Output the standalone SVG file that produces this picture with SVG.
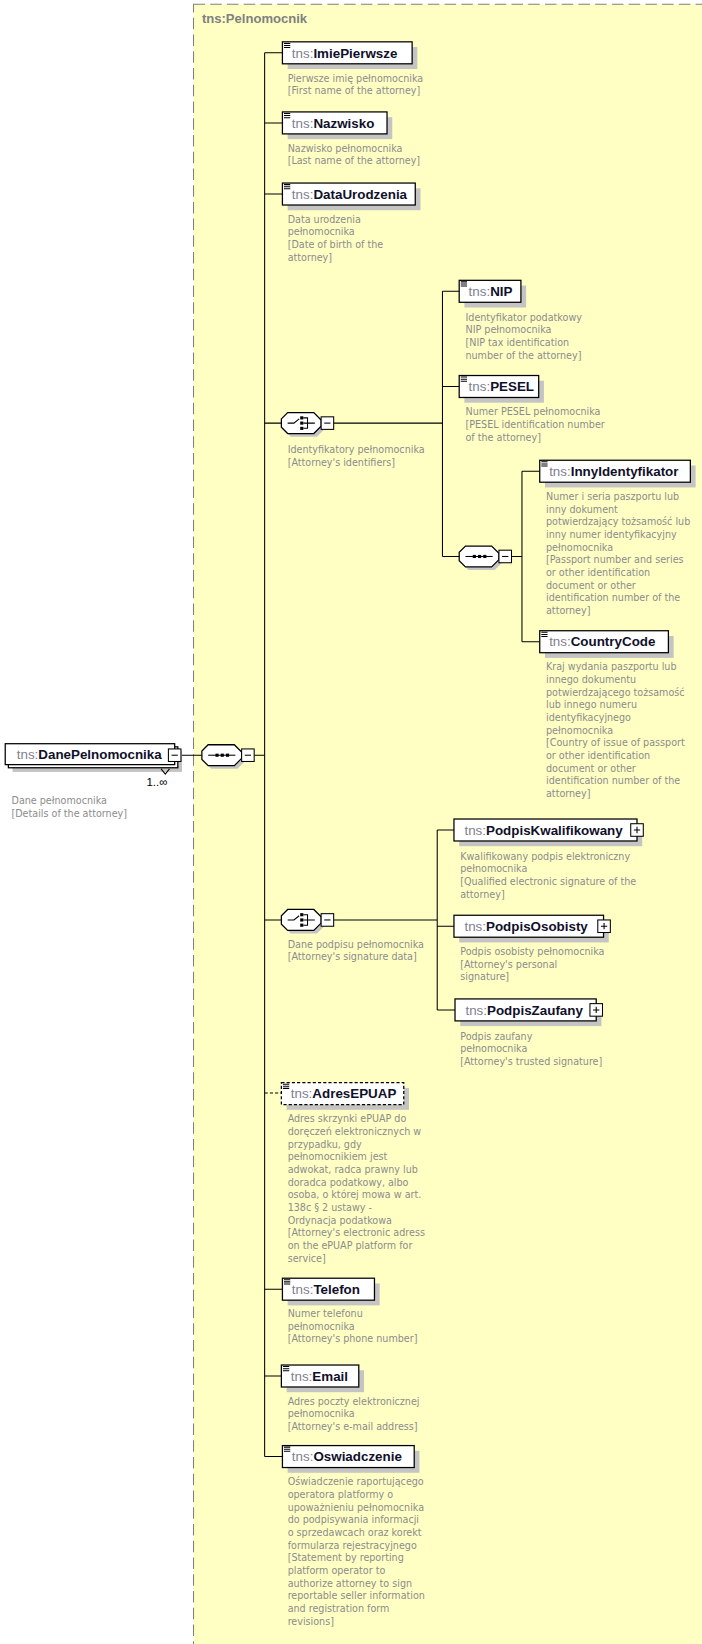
<svg xmlns="http://www.w3.org/2000/svg" xmlns:xlink="http://www.w3.org/1999/xlink" width="702" height="1644" viewBox="0 0 702 1644">
<style>
.bg{fill:#ffffff}
.cont{fill:#ffffc4;stroke:#808080;stroke-width:1;stroke-dasharray:11 5}
.title{font-family:"Liberation Sans",Arial,sans-serif;font-size:12.5px;font-weight:bold;fill:#808080}
.box{fill:#ffffff;stroke:#000000;stroke-width:1.2}
.dbox{fill:#ffffff;stroke:#000000;stroke-width:1.2;stroke-dasharray:3 2}
.sh{fill:#c4c4c4}
.ln{stroke:#000000;stroke-width:1;fill:none}
.dln{stroke:#000000;stroke-width:1;fill:none;stroke-dasharray:3 2}
.lbl{font-family:"Liberation Sans",Arial,sans-serif;font-size:12.8px}
.ns{fill:#808090}
.nm{fill:#10102a;font-weight:bold}
.d{font-family:"DejaVu Sans Condensed","DejaVu Sans","Liberation Sans",sans-serif;font-stretch:condensed;font-size:10.2px;fill:#8c8c8c}
.occ{font-family:"Liberation Sans",Arial,sans-serif;font-size:11px;fill:#000000}
.pm{fill:#ffffff;stroke:#000000;stroke-width:1}
.ic{stroke:#000000;stroke-width:1;fill:none}
</style>
<defs>
<path id="ico" d="M0.5,1.5 h6 M0.5,3.5 h6 M0.5,5.5 h6" class="ic"/>
<g id="minus"><rect class="pm" x="0" y="0" width="12" height="12"/><path class="ic" d="M3,6 h6"/></g>
<g id="plus"><rect class="pm" x="0" y="0" width="12" height="12"/><path class="ic" d="M3,6 h6 M6,3 v6"/></g>
<path id="comp" d="M6,0 H31 L38,7 V13 L31,20 H6 L0,14 V6 Z"/>
<g id="seq">
<use xlink:href="#comp" transform="translate(3,3)" fill="#c4c4c4"/>
<use xlink:href="#comp" fill="#ffffff" stroke="#000000" stroke-width="1.2"/>
<path class="ic" d="M6,10 H32"/>
<rect x="13" y="8.5" width="3" height="3" fill="#000"/>
<rect x="18" y="8.5" width="3" height="3" fill="#000"/>
<rect x="23" y="8.5" width="3" height="3" fill="#000"/>
</g>
<g id="cho">
<use xlink:href="#comp" transform="translate(3,3)" fill="#c4c4c4"/>
<use xlink:href="#comp" fill="#ffffff" stroke="#000000" stroke-width="1.2"/>
<path class="ic" d="M6,10 H12 L17,6 M21,5 H25 V15 H21 M21,10 H32"/>
<rect x="18" y="3.5" width="3" height="3" fill="#000"/>
<rect x="18" y="8.5" width="3" height="3" fill="#000"/>
<rect x="18" y="13.5" width="3" height="3" fill="#000"/>
</g>
</defs>

<rect class="bg" x="0" y="0" width="702" height="1644"/>
<g id="diagram" transform="scale(1.046)">
<rect class="cont" x="185" y="4" width="600" height="1700"/>
<text class="title" x="193" y="22">tns:Pelnomocnik</text>

<g id="connectors">
<path class="ln" d="M253,50.5 V1392.5"/>
<path class="ln" d="M253,50.5 H270 M253,117.5 H270 M253,185.5 H270 M253,404.5 H269 M243,722 H253 M172,722 H193 M253,879.5 H269 M253,1232.5 H270 M253,1315.5 H269 M253,1392.5 H270"/>
<path class="dln" d="M253,1045 H269"/>
<path class="ln" d="M319,404.5 H423 M423,278.5 V532 M423,278.5 H439 M423,369.5 H439 M423,532 H439"/>
<path class="ln" d="M489,532 H499 M499,450.5 V613.5 M499,450.5 H516 M499,613.5 H516"/>
<path class="ln" d="M319,879.5 H418 M418,793.5 V965.5 M418,793.5 H434 M418,885.5 H434 M418,965.5 H435"/>
</g>

<g id="DanePelnomocnika">
<rect class="sh" x="12" y="718" width="162" height="20"/>
<rect class="box" x="8" y="714" width="162" height="20"/>
<rect class="box" x="5" y="711" width="162" height="20"/>
<text class="lbl" x="16" y="726"><tspan class="ns">tns:</tspan><tspan class="nm">DanePelnomocnika</tspan></text>
<use xlink:href="#minus" x="161" y="716"/>
<path class="ic" d="M154,735 L158,740 L162,735"/>
<text class="occ" x="140" y="751">1..∞</text>
<text class="d" x="11" y="768.5"><tspan x="11">Dane pełnomocnika</tspan><tspan x="11" dy="12.1">[Details of the attorney]</tspan></text>
</g>

<g id="seqMain">
<use xlink:href="#seq" x="193" y="712"/>
<use xlink:href="#minus" x="231" y="716"/>
</g>

<g id="ImiePierwsze">
<rect class="sh" x="275" y="45" width="124" height="21"/>
<rect class="box" x="270" y="40" width="124" height="21"/>
<use xlink:href="#ico" x="271" y="40"/>
<text class="lbl" x="279" y="55"><tspan class="ns">tns:</tspan><tspan class="nm">ImiePierwsze</tspan></text>
<text class="d" x="275" y="78"><tspan x="275">Pierwsze imię pełnomocnika</tspan><tspan x="275" dy="12.1">[First name of the attorney]</tspan></text>
</g>

<g id="Nazwisko">
<rect class="sh" x="275" y="112" width="100" height="21"/>
<rect class="box" x="270" y="107" width="100" height="21"/>
<use xlink:href="#ico" x="271" y="107"/>
<text class="lbl" x="279" y="122"><tspan class="ns">tns:</tspan><tspan class="nm">Nazwisko</tspan></text>
<text class="d" x="275" y="145"><tspan x="275">Nazwisko pełnomocnika</tspan><tspan x="275" dy="12.1">[Last name of the attorney]</tspan></text>
</g>

<g id="DataUrodzenia">
<rect class="sh" x="275" y="180" width="127" height="21"/>
<rect class="box" x="270" y="175" width="127" height="21"/>
<use xlink:href="#ico" x="271" y="175"/>
<text class="lbl" x="279" y="190"><tspan class="ns">tns:</tspan><tspan class="nm">DataUrodzenia</tspan></text>
<text class="d" x="275" y="213"><tspan x="275">Data urodzenia</tspan><tspan x="275" dy="12.1">pełnomocnika</tspan><tspan x="275" dy="12.1">[Date of birth of the</tspan><tspan x="275" dy="12.1">attorney]</tspan></text>
</g>

<g id="choiceIdent">
<use xlink:href="#cho" x="269" y="394.5"/>
<use xlink:href="#minus" x="307" y="398.5"/>
<text class="d" x="275" y="433"><tspan x="275">Identyfikatory pełnomocnika</tspan><tspan x="275" dy="12.1">[Attorney's identifiers]</tspan></text>
</g>

<g id="NIP">
<rect class="sh" x="444" y="273" width="59" height="21"/>
<rect class="box" x="439" y="268" width="59" height="21"/>
<use xlink:href="#ico" x="440" y="268"/>
<text class="lbl" x="448" y="283"><tspan class="ns">tns:</tspan><tspan class="nm">NIP</tspan></text>
<text class="d" x="445" y="306.5"><tspan x="445">Identyfikator podatkowy</tspan><tspan x="445" dy="12.1">NIP pełnomocnika</tspan><tspan x="445" dy="12.1">[NIP tax identification</tspan><tspan x="445" dy="12.1">number of the attorney]</tspan></text>
</g>

<g id="PESEL">
<rect class="sh" x="444" y="364" width="76" height="21"/>
<rect class="box" x="439" y="359" width="76" height="21"/>
<use xlink:href="#ico" x="440" y="359"/>
<text class="lbl" x="448" y="374"><tspan class="ns">tns:</tspan><tspan class="nm">PESEL</tspan></text>
<text class="d" x="445" y="397"><tspan x="445">Numer PESEL pełnomocnika</tspan><tspan x="445" dy="12.1">[PESEL identification number</tspan><tspan x="445" dy="12.1">of the attorney]</tspan></text>
</g>

<g id="seqInner">
<use xlink:href="#seq" x="439" y="522"/>
<use xlink:href="#minus" x="477" y="526"/>
</g>

<g id="InnyIdentyfikator">
<rect class="sh" x="521" y="445" width="144" height="21"/>
<rect class="box" x="516" y="440" width="144" height="21"/>
<use xlink:href="#ico" x="517" y="440"/>
<text class="lbl" x="525" y="455"><tspan class="ns">tns:</tspan><tspan class="nm">InnyIdentyfikator</tspan></text>
<text class="d" x="522" y="478"><tspan x="522">Numer i seria paszportu lub</tspan><tspan x="522" dy="12.1">inny dokument</tspan><tspan x="522" dy="12.1">potwierdzający tożsamość lub</tspan><tspan x="522" dy="12.1">inny numer identyfikacyjny</tspan><tspan x="522" dy="12.1">pełnomocnika</tspan><tspan x="522" dy="12.1">[Passport number and series</tspan><tspan x="522" dy="12.1">or other identification</tspan><tspan x="522" dy="12.1">document or other</tspan><tspan x="522" dy="12.1">identification number of the</tspan><tspan x="522" dy="12.1">attorney]</tspan></text>
</g>

<g id="CountryCode">
<rect class="sh" x="521" y="608" width="123" height="21"/>
<rect class="box" x="516" y="603" width="123" height="21"/>
<use xlink:href="#ico" x="517" y="603"/>
<text class="lbl" x="525" y="618"><tspan class="ns">tns:</tspan><tspan class="nm">CountryCode</tspan></text>
<text class="d" x="522" y="641"><tspan x="522">Kraj wydania paszportu lub</tspan><tspan x="522" dy="12.1">innego dokumentu</tspan><tspan x="522" dy="12.1">potwierdzającego tożsamość</tspan><tspan x="522" dy="12.1">lub innego numeru</tspan><tspan x="522" dy="12.1">identyfikacyjnego</tspan><tspan x="522" dy="12.1">pełnomocnika</tspan><tspan x="522" dy="12.1">[Country of issue of passport</tspan><tspan x="522" dy="12.1">or other identification</tspan><tspan x="522" dy="12.1">document or other</tspan><tspan x="522" dy="12.1">identification number of the</tspan><tspan x="522" dy="12.1">attorney]</tspan></text>
</g>

<g id="choiceSig">
<use xlink:href="#cho" x="269" y="869.5"/>
<use xlink:href="#minus" x="307" y="873.5"/>
<text class="d" x="275" y="906"><tspan x="275">Dane podpisu pełnomocnika</tspan><tspan x="275" dy="12.1">[Attorney's signature data]</tspan></text>
</g>

<g id="PodpisKwalifikowany">
<rect class="sh" x="439" y="788" width="175" height="21"/>
<rect class="box" x="434" y="783" width="175" height="21"/>
<text class="lbl" x="444" y="798"><tspan class="ns">tns:</tspan><tspan class="nm">PodpisKwalifikowany</tspan></text>
<use xlink:href="#plus" x="603" y="787.5"/>
<text class="d" x="440" y="822"><tspan x="440">Kwalifikowany podpis elektroniczny</tspan><tspan x="440" dy="12.1">pełnomocnika</tspan><tspan x="440" dy="12.1">[Qualified electronic signature of the</tspan><tspan x="440" dy="12.1">attorney]</tspan></text>
</g>

<g id="PodpisOsobisty">
<rect class="sh" x="439" y="880" width="143" height="21"/>
<rect class="box" x="434" y="875" width="143" height="21"/>
<text class="lbl" x="444" y="890"><tspan class="ns">tns:</tspan><tspan class="nm">PodpisOsobisty</tspan></text>
<use xlink:href="#plus" x="571.5" y="879.5"/>
<text class="d" x="440" y="913"><tspan x="440">Podpis osobisty pełnomocnika</tspan><tspan x="440" dy="12.1">[Attorney's personal</tspan><tspan x="440" dy="12.1">signature]</tspan></text>
</g>

<g id="PodpisZaufany">
<rect class="sh" x="440" y="960" width="135" height="21"/>
<rect class="box" x="435" y="955" width="135" height="21"/>
<text class="lbl" x="445" y="970"><tspan class="ns">tns:</tspan><tspan class="nm">PodpisZaufany</tspan></text>
<use xlink:href="#plus" x="564" y="959.5"/>
<text class="d" x="440" y="994"><tspan x="440">Podpis zaufany</tspan><tspan x="440" dy="12.1">pełnomocnika</tspan><tspan x="440" dy="12.1">[Attorney's trusted signature]</tspan></text>
</g>

<g id="AdresEPUAP">
<rect class="sh" x="274" y="1040" width="117" height="21"/>
<rect class="dbox" x="269" y="1035" width="117" height="21"/>
<use xlink:href="#ico" x="270" y="1035"/>
<text class="lbl" x="278" y="1050"><tspan class="ns">tns:</tspan><tspan class="nm">AdresEPUAP</tspan></text>
<text class="d" x="275" y="1073"><tspan x="275">Adres skrzynki ePUAP do</tspan><tspan x="275" dy="12.1">doręczeń elektronicznych w</tspan><tspan x="275" dy="12.1">przypadku, gdy</tspan><tspan x="275" dy="12.1">pełnomocnikiem jest</tspan><tspan x="275" dy="12.1">adwokat, radca prawny lub</tspan><tspan x="275" dy="12.1">doradca podatkowy, albo</tspan><tspan x="275" dy="12.1">osoba, o której mowa w art.</tspan><tspan x="275" dy="12.1">138c § 2 ustawy -</tspan><tspan x="275" dy="12.1">Ordynacja podatkowa</tspan><tspan x="275" dy="12.1">[Attorney's electronic adress</tspan><tspan x="275" dy="12.1">on the ePUAP platform for</tspan><tspan x="275" dy="12.1">service]</tspan></text>
</g>

<g id="Telefon">
<rect class="sh" x="275" y="1227" width="88" height="21"/>
<rect class="box" x="270" y="1222" width="88" height="21"/>
<use xlink:href="#ico" x="271" y="1222"/>
<text class="lbl" x="279" y="1237"><tspan class="ns">tns:</tspan><tspan class="nm">Telefon</tspan></text>
<text class="d" x="275" y="1259"><tspan x="275">Numer telefonu</tspan><tspan x="275" dy="12.1">pełnomocnika</tspan><tspan x="275" dy="12.1">[Attorney's phone number]</tspan></text>
</g>

<g id="Email">
<rect class="sh" x="274" y="1310" width="74" height="21"/>
<rect class="box" x="269" y="1305" width="74" height="21"/>
<use xlink:href="#ico" x="270" y="1305"/>
<text class="lbl" x="278" y="1320"><tspan class="ns">tns:</tspan><tspan class="nm">Email</tspan></text>
<text class="d" x="275" y="1343"><tspan x="275">Adres poczty elektronicznej</tspan><tspan x="275" dy="12.1">pełnomocnika</tspan><tspan x="275" dy="12.1">[Attorney's e-mail address]</tspan></text>
</g>

<g id="Oswiadczenie">
<rect class="sh" x="275" y="1387" width="126" height="21"/>
<rect class="box" x="270" y="1382" width="126" height="21"/>
<use xlink:href="#ico" x="271" y="1382"/>
<text class="lbl" x="279" y="1397"><tspan class="ns">tns:</tspan><tspan class="nm">Oswiadczenie</tspan></text>
<text class="d" x="275" y="1420"><tspan x="275">Oświadczenie raportującego</tspan><tspan x="275" dy="12.1">operatora platformy o</tspan><tspan x="275" dy="12.1">upoważnieniu pełnomocnika</tspan><tspan x="275" dy="12.1">do podpisywania informacji</tspan><tspan x="275" dy="12.1">o sprzedawcach oraz korekt</tspan><tspan x="275" dy="12.1">formularza rejestracyjnego</tspan><tspan x="275" dy="12.1">[Statement by reporting</tspan><tspan x="275" dy="12.1">platform operator to</tspan><tspan x="275" dy="12.1">authorize attorney to sign</tspan><tspan x="275" dy="12.1">reportable seller information</tspan><tspan x="275" dy="12.1">and registration form</tspan><tspan x="275" dy="12.1">revisions]</tspan></text>
</g>
</g>
</svg>
